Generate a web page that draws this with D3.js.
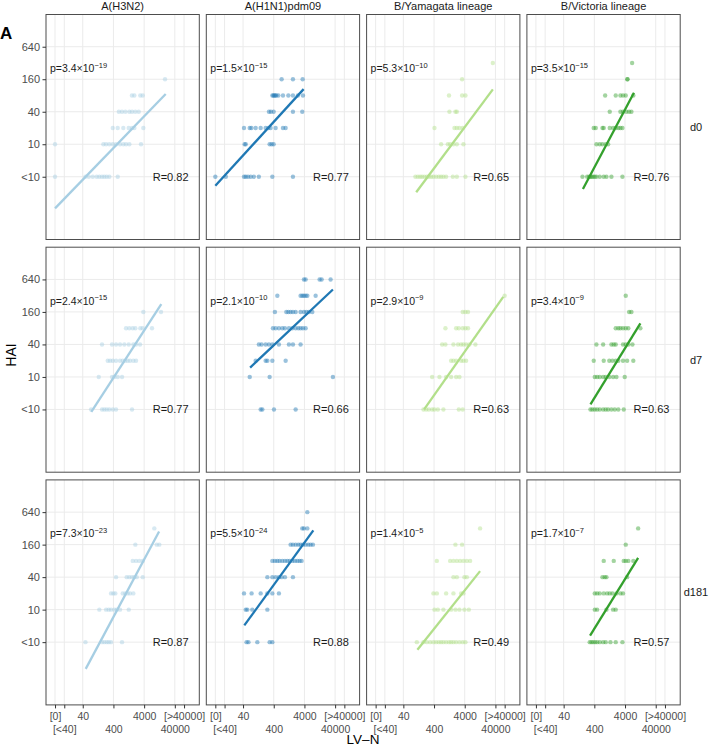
<!DOCTYPE html>
<html>
<head>
<meta charset="utf-8">
<script src="https://cdn.jsdelivr.net/npm/d3@7"></script>
<style>
body { margin: 0; background: #fff; }
text { font-family: "Liberation Sans", Arial, Helvetica, sans-serif; }
</style>
</head>
<body>
<div id="chart"></div>
<script>

// facets
const strains = ["A(H3N2)", "A(H1N1)pdm09", "B/Yamagata lineage", "B/Victoria lineage"];
const days = ["d0", "d7", "d181"];
const colors = ["#a6cee3", "#1f78b4", "#b2df8a", "#33a02c"];

// axis ticks
const haiTicks = ["<10", "10", "40", "160", "640"];
const lvnTicks = [5, 10, 40, 400, 4000, 40000, 80000];
const lvnLabels = ["[0]", "[<40]", "40", "400", "4000", "40000", "[>40000]"];

// points: [HAI, [LV-N titres]]
const h3n2_d0 = [
    ["160", [19200]],
    ["80", [1600, 1920, 3000, 3600]],
    ["40", [600, 760, 980, 1320, 1620, 2070, 2670]],
    ["20", [380, 550, 840, 1260, 1620, 1920, 3770]],
    ["10", [5, 188, 230, 294, 380, 486, 656, 840, 1030, 1320, 3170]],
    ["<10", [5, 49, 63, 85, 114, 139, 170, 202, 242, 294, 552]]
];
const h1n1_d0 = [
    ["160", [723, 1690, 3500]],
    ["80", [360, 390, 419, 450, 486, 565, 800, 1200, 1690, 2455, 3580]],
    ["40", [279, 324, 397, 1690, 3400]],
    ["20", [43, 66, 75, 103, 150, 218, 267, 317, 461, 800, 977]],
    ["10", [45, 49, 294, 342, 397]],
    ["<10", [5, 11, 43, 49, 58, 71, 90, 131, 360, 1690]]
];
const yam_d0 = [
    ["320", [32900]],
    ["160", [3290]],
    ["80", [1230, 3290, 4220]],
    ["40", [1270, 1990, 2210]],
    ["20", [413, 1850, 2210, 2680, 3440]],
    ["10", [681, 1126, 1338, 1715, 2210, 3630]],
    ["<10", [99, 119, 141, 164, 194, 233, 271, 322, 382, 468, 573, 681, 809, 991, 1637, 2210, 4220]]
];
const vic_d0 = [
    ["320", [6810]],
    ["160", [4790, 4790]],
    ["80", [900, 1990, 2830, 3440, 4220, 7450]],
    ["40", [1270, 2830, 3440, 4440, 5440, 6460]],
    ["20", [382, 445, 735, 809, 1270, 1637, 1990, 2420, 2830, 3290]],
    ["10", [468, 600, 735, 940, 1126]],
    ["<10", [164, 233, 271, 299, 329, 366, 413, 468, 600, 809, 991, 1442, 3290]]
];
const h3n2_d7 = [
    ["160", [3770, 14200]],
    ["80", [1030, 1320, 1700, 2070, 3000, 3600, 7230]],
    ["40", [170, 360, 486, 656, 906, 1260, 1780, 2180, 2940]],
    ["20", [261, 310, 380, 486, 656, 804, 977, 1170, 1390, 1780, 2180]],
    ["10", [133, 360, 428, 552, 762]],
    ["<10", [75, 170, 202, 242, 294, 380, 486, 1615]]
];
const h1n1_d7 = [
    ["640", [3855, 4380, 12500, 14530, 28500]],
    ["320", [524, 3000, 3420, 3855, 4380, 4970, 9270]],
    ["160", [437, 1030, 1200, 1420, 1690, 2070, 3000, 3855, 4610, 5610, 7230]],
    ["80", [377, 461, 590, 762, 927, 1250, 1615, 2070, 2530, 3000, 3580, 4380]],
    ["40", [131, 161, 218, 279, 360, 590, 1250, 1690, 3000]],
    ["20", [103, 218, 248, 360, 977]],
    ["10", [66, 294, 33900]],
    ["<10", [150, 170, 407, 2070]]
];
const yam_d7 = [
    ["320", [80000]],
    ["160", [3440, 4220, 5120]],
    ["80", [940, 2100, 2570, 3440, 4220, 5120]],
    ["40", [735, 940, 1715, 2420, 3050, 3630, 4440, 5690, 8920]],
    ["20", [1442, 1715, 2100, 3050, 3630, 4440]],
    ["10", [347, 600, 991, 1442, 2100, 2690]],
    ["<10", [181, 221, 271, 347, 413, 532, 809, 2570, 3440]]
];
const vic_d7 = [
    ["320", [4220]],
    ["160", [5440, 6460]],
    ["80", [1990, 2420, 2830, 3440, 4220, 5120, 12650]],
    ["40", [468, 775, 1442, 1715, 1990, 3440, 4220, 5120, 6970]],
    ["20", [382, 809, 1230, 1556, 1990, 2420, 3440, 4680, 7450]],
    ["10", [413, 493, 600, 775, 940, 1230, 1637, 2100, 3910]],
    ["<10", [299, 347, 413, 493, 600, 775, 940, 1126, 1442, 1850, 2420, 3630]]
];
const h3n2_d181 = [
    ["320", [8590]],
    ["160", [2070, 10300, 12500]],
    ["80", [1700, 2180, 2790, 3600]],
    ["40", [486, 1080, 1320, 1620, 1920, 2300, 3600]],
    ["20", [334, 397, 461, 804, 977, 1170, 1390, 1780]],
    ["10", [139, 230, 281, 334, 428, 512, 656, 1260]],
    ["<10", [49, 170, 202, 242, 281, 334, 762]]
];
const h1n1_d181 = [
    ["640", [4970]],
    ["320", [3400, 3855, 4970]],
    ["160", [1420, 1690, 2070, 2530, 3000, 3580, 4380, 5360, 6370, 7570]],
    ["80", [360, 437, 524, 622, 762, 927, 1110, 1320, 1620, 1960, 2350, 2790, 3240]],
    ["40", [248, 360, 461, 590, 723, 927, 1690]],
    ["20", [43, 76, 150, 248, 360, 590]],
    ["10", [49, 55, 80, 248]],
    ["<10", [52, 60, 117, 294, 360]]
];
const yam_d181 = [
    ["320", [12650]],
    ["160", [1990, 3290]],
    ["80", [493, 1338, 1715, 2210, 2830, 3630, 4680, 6000]],
    ["40", [1715, 2210, 3910, 4680]],
    ["20", [382, 493, 991, 1715, 3050, 3630]],
    ["10", [413, 532, 809, 1442, 1990, 2690, 3910, 5440]],
    ["<10", [110, 181, 233, 299, 382, 468, 573, 681, 809, 991, 1230, 1442, 1715, 2100, 2690, 3440, 4220]]
];
const vic_d181 = [
    ["320", [10700]],
    ["160", [4220]],
    ["80", [809, 1715, 3630, 4220, 5120, 7450]],
    ["40", [735, 873, 991, 4680]],
    ["20", [413, 493, 600, 809, 1045, 1270, 1556, 2100, 2830, 3440]],
    ["10", [413, 493, 991, 1637, 1990]],
    ["<10", [283, 322, 366, 425, 493, 600, 775, 940, 1338, 1990, 3290]]
];

// fitted lines: [x start, HAI at start, x end, HAI at end]
const fits_d0 = [[5, 0.65, 20200, 85], [5, 1.7, 3770, 105], [105, 1.29, 33000, 104], [170, 1.48, 7800, 90]];
const fits_d7 = [[76, 2.26, 14500, 223], [68, 14.9, 33900, 417], [190, 2.5, 72000, 305], [299, 3.1, 12650, 98]];
const fits_d181 = [[50, 0.8, 12300, 281], [44, 5.1, 7800, 293], [115, 1.81, 12650, 51.7], [290, 3.3, 10700, 91]];

// stats
const pMant = ["3.4", "1.5", "5.3", "3.5", "2.4", "2.1", "2.9", "3.4", "7.3", "5.5", "1.4", "1.7"];
const pExp = ["\u221219", "\u221215", "\u221210", "\u221215", "\u221215", "\u221210", "\u22129", "\u22129", "\u221223", "\u221224", "\u22125", "\u22127"];
const rVals = ["0.82", "0.77", "0.65", "0.76", "0.77", "0.66", "0.63", "0.63", "0.87", "0.88", "0.49", "0.57"];

const panelPoints = [
    [h3n2_d0, h1n1_d0, yam_d0, vic_d0],
    [h3n2_d7, h1n1_d7, yam_d7, vic_d7],
    [h3n2_d181, h1n1_d181, yam_d181, vic_d181]
];
const panelFits = [fits_d0, fits_d7, fits_d181];

function haiValue(k) {
    return k === "<10" ? 2.5 : +k;
}

//基础画布设置
const width = 709, height = 748;
const margin = {top: 14.5, left: 46};
const panelW = 153.3, panelH = 225, gapX = 7, gapY = 7.7;

const svg = d3.select("#chart")
    .append("svg")
    .attr("width", width)
    .attr("height", height);

//比例尺
const xScale = d3.scaleLog()
    .domain([2.54, 251000])
    .range([0, panelW]);
const yScale = d3.scaleLog().base(2)
    .domain([0.172, 2530])
    .range([panelH, 0]);

const line = d3.line()
    .x(d => xScale(d[0]))
    .y(d => yScale(d[1]));

days.forEach((day, r) => {
    strains.forEach((strain, c) => {
        const g = svg.append("g")
            .attr("transform", "translate(" + (margin.left + c * (panelW + gapX)) + "," + (margin.top + r * (panelH + gapY)) + ")");

        g.append("rect")
            .attr("width", panelW)
            .attr("height", panelH)
            .attr("fill", "#fff");

        // grid
        g.append("g").selectAll("line")
            .data(lvnTicks)
            .enter()
            .append("line")
            .attr("x1", d => xScale(d)).attr("x2", d => xScale(d))
            .attr("y1", 0).attr("y2", panelH)
            .attr("stroke", "#ebebeb")
            .attr("stroke-width", 1);
        g.append("g").selectAll("line")
            .data(haiTicks)
            .enter()
            .append("line")
            .attr("y1", d => yScale(haiValue(d))).attr("y2", d => yScale(haiValue(d)))
            .attr("x1", 0).attr("x2", panelW)
            .attr("stroke", "#ebebeb")
            .attr("stroke-width", 1);

        // points
        let pts = [];
        panelPoints[r][c].forEach(row => {
            row[1].forEach(v => pts.push({x: v, y: haiValue(row[0])}));
        });
        g.append("g").selectAll("circle")
            .data(pts)
            .enter()
            .append("circle")
            .attr("cx", d => xScale(d.x))
            .attr("cy", d => yScale(d.y))
            .attr("r", 2.2)
            .attr("fill", colors[c])
            .attr("fill-opacity", 0.45);

        // fit
        const f = panelFits[r][c];
        g.append("path")
            .attr("d", line([[f[0], f[1]], [f[2], f[3]]]))
            .attr("stroke", colors[c])
            .attr("stroke-width", 2.3)
            .attr("fill", "none");

        // labels
        const k = r * 4 + c;
        const pt = g.append("text")
            .attr("x", 4)
            .attr("y", 57.5)
            .attr("font-size", "10.5px")
            .attr("fill", "#1a1a1a")
            .text("p=" + pMant[k] + "\u00d710");
        pt.append("tspan")
            .attr("dy", -4.5)
            .attr("font-size", "7.5px")
            .text(pExp[k]);

        g.append("text")
            .attr("x", 142.5)
            .attr("y", yScale(2.5))
            .attr("dy", "0.36em")
            .attr("text-anchor", "end")
            .attr("font-size", "11px")
            .attr("fill", "#1a1a1a")
            .text("R=" + rVals[k]);

        g.append("rect")
            .attr("width", panelW)
            .attr("height", panelH)
            .attr("fill", "none")
            .attr("stroke", "#4d4d4d")
            .attr("stroke-width", 1);

        //坐标轴
        if (c === 0) {
            const ya = g.append("g")
                .call(d3.axisLeft(yScale)
                    .tickValues(haiTicks.map(haiValue))
                    .tickFormat((d, i) => haiTicks[i])
                    .tickSize(3.5)
                    .tickPadding(2.5));
            ya.select(".domain").remove();
            ya.selectAll(".tick line").attr("stroke", "#333");
            ya.selectAll(".tick text")
                .attr("fill", "#4d4d4d")
                .style("font-size", "11px")
                .style("font-family", "'Liberation Sans', Arial, sans-serif");
        }
        if (r === days.length - 1) {
            const xa = g.append("g")
                .attr("transform", "translate(0," + panelH + ")")
                .call(d3.axisBottom(xScale)
                    .tickValues(lvnTicks)
                    .tickFormat((d, i) => lvnLabels[i])
                    .tickSize(3.5)
                    .tickPadding(4.5));
            xa.select(".domain").remove();
            xa.selectAll(".tick line").attr("stroke", "#333");
            xa.selectAll(".tick text")
                .attr("fill", "#4d4d4d")
                .style("font-size", "10.5px")
                .style("font-family", "'Liberation Sans', Arial, sans-serif")
                .attr("dy", (d, i) => i % 2 === 1 ? "1.88em" : "0.71em");
        }
        if (r === 0) {
            svg.append("text")
                .attr("x", margin.left + c * (panelW + gapX) + panelW / 2)
                .attr("y", 9.5)
                .attr("text-anchor", "middle")
                .attr("font-size", "11px")
                .attr("fill", "#1a1a1a")
                .text(strain);
        }
    });

    svg.append("text")
        .attr("x", 696)
        .attr("y", margin.top + r * (panelH + gapY) + panelH / 2)
        .attr("dy", "0.36em")
        .attr("text-anchor", "middle")
        .attr("font-size", "11px")
        .attr("fill", "#1a1a1a")
        .text(day);
});

// titles
svg.append("text")
    .attr("transform", "translate(16,355) rotate(-90)")
    .attr("text-anchor", "middle")
    .attr("font-size", "14px")
    .attr("fill", "#000")
    .text("HAI");

svg.append("text")
    .attr("x", 363)
    .attr("y", 744)
    .attr("text-anchor", "middle")
    .attr("font-size", "13.5px")
    .attr("fill", "#000")
    .text("LV\u2013N");

svg.append("text")
    .attr("x", 0)
    .attr("y", 39)
    .attr("font-size", "17px")
    .attr("font-weight", "bold")
    .attr("fill", "#000")
    .text("A");

</script>
</body>
</html>
